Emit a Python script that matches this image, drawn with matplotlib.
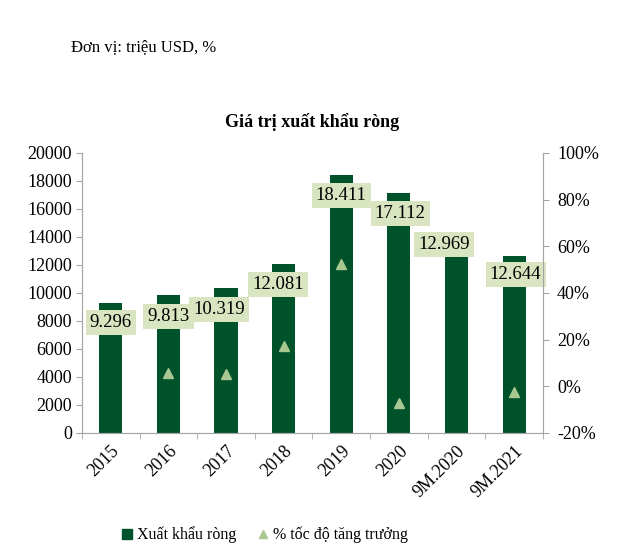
import matplotlib
matplotlib.use("Agg")
import matplotlib.pyplot as plt
from matplotlib.lines import Line2D

plt.rcParams['font.family'] = ['Liberation Serif', 'DejaVu Serif']

# Data
categories = ['2015', '2016', '2017', '2018', '2019', '2020', '9M.2020', '9M.2021']
net_export = [9296, 9813, 10319, 12081, 18411, 17112, 12969, 12644]
value_labels = ['9.296', '9.813', '10.319', '12.081', '18.411', '17.112', '12.969', '12.644']
growth_pos = [1, 2, 3, 4, 5, 7]
growth = [5.6, 5.2, 17.1, 52.4, -7.1, -2.5]

# label offsets (pixels) so boxes sit like the original
label_dx = [0, 0, -5, -4, 0, 1, -9, 1]
label_dy = [-20, -21, -21, -21, -20, -20, 7, -19]

dark = '#00522a'
light = '#a8c791'
box = '#d8e5c0'
grey = '#a6a6a6'

fig = plt.figure(figsize=(6.3, 5.6), dpi=100)
ax = fig.add_axes([0.130, 0.227, 0.732, 0.500])
ax2 = ax.twinx()

x = list(range(len(categories)))
ax.bar(x, net_export, width=0.4, color=dark, zorder=2)
ax.set_xlim(-0.5, len(categories) - 0.5)
ax.set_ylim(0, 20000)
ax.set_yticks(range(0, 20001, 2000))
ax.set_xticks(x)
ax.set_xticklabels(categories, rotation=45, ha='right', rotation_mode='anchor', fontsize=13)
ax.set_xticks([i + 0.5 for i in x[:-1]] + [-0.5, len(categories) - 0.5], minor=True)
ax.tick_params(axis='x', which='major', length=0, pad=7)
ax.tick_params(axis='x', which='minor', length=4, color=grey, direction='out')
ax.tick_params(axis='y', labelsize=13, length=4, color=grey, pad=3)

for i, (v, t) in enumerate(zip(net_export, value_labels)):
    ax.annotate(t, (i, v), xytext=(label_dx[i], label_dy[i] * 0.72),
                textcoords='offset points', ha='center', va='center', fontsize=13.5,
                bbox=dict(boxstyle='square,pad=0.22', fc=box, ec='none'), zorder=4)

ax2.plot(growth_pos, growth, linestyle='none', marker='^', markersize=7,
         color=light, zorder=3)
ax2.set_ylim(-20, 100)
ax2.set_yticks(range(-20, 101, 20))
ax2.set_yticklabels([f'{v}%' for v in range(-20, 101, 20)])
ax2.tick_params(axis='y', labelsize=13, length=4, color=grey, pad=6)

for a in (ax, ax2):
    a.spines['top'].set_visible(False)
    for s in ('left', 'right', 'bottom'):
        a.spines[s].set_color(grey)

fig.text(0.112, 0.916, 'Đơn vị: triệu USD, %', fontsize=12, va='center')
fig.text(0.496, 0.782, 'Giá trị xuất khẩu ròng', fontsize=13, fontweight='bold',
         ha='center', va='center')

handles = [Line2D([], [], linestyle='none', marker='s', markersize=7, color=dark),
           Line2D([], [], linestyle='none', marker='^', markersize=6, color=light)]
fig.legend(handles, ['Xuất khẩu ròng', '% tốc độ tăng trưởng'], loc='center',
           bbox_to_anchor=(0.418, 0.045), ncol=2, frameon=False, fontsize=11.5,
           handletextpad=0.1, columnspacing=1.2, handlelength=1.0)

fig.savefig('out.png', dpi=100, facecolor='white')
